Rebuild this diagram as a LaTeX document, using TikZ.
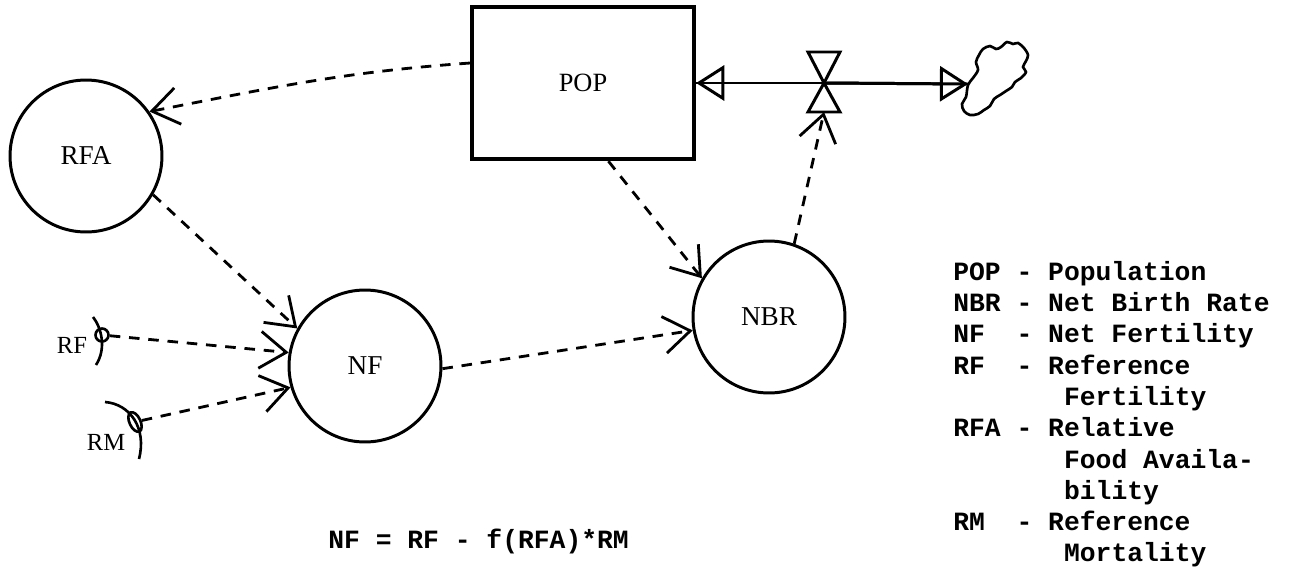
\documentclass[tikz,border=0pt]{standalone}
\usepackage{fontspec}
\setmainfont{Liberation Serif}
\setmonofont{Liberation Mono}
\usetikzlibrary{arrows.meta,shapes.geometric}
\begin{document}
\begin{tikzpicture}[x=0.02cm,y=-0.02cm,
  levelbox/.style={draw, line width=2.5pt, minimum width=4.44cm, minimum height=3.04cm, inner sep=0pt, font=\fontsize{15}{17}\selectfont},
  auxcirc/.style={draw, circle, line width=1.7pt, minimum size=3.04cm, inner sep=0pt, font=\fontsize{15.5}{17}\selectfont},
  dep/.style={line width=1.6pt, dash pattern=on 6pt off 5pt, -{Straight Barb[length=15pt,width=21pt]}},
  flowline/.style={line width=1.7pt},
  flowtip/.style={-{Triangle[open,length=16pt,width=20pt,line width=1.7pt]}},
  valvetri/.style={line width=1.7pt, line join=miter},
  constsym/.style={draw, line width=1.5pt, inner sep=0pt},
  constline/.style={line width=1.5pt},
  constlabel/.style={font=\fontsize{14}{16}\selectfont, inner sep=0pt},
  leg/.style={anchor=base west, inner sep=0pt, font=\ttfamily\bfseries\fontsize{15}{15}\selectfont},
]
\fill[white] (0,0) rectangle (1296,575);
\useasboundingbox (0,0) rectangle (1296,575);

% main elements
\node[levelbox] (POP) at (583,83) {POP};
\node[auxcirc] (RFA) at (86,156) {RFA};
\node[auxcirc] (NF) at (365,366) {NF};
\node[auxcirc] (NBR) at (769,317) {NBR};

% valve
\coordinate (valve) at (824,83);
\coordinate (valvebase) at (824,112);
\draw[valvetri] (808,52) -- (840,52) -- (valve) -- cycle;
\draw[valvetri] (valve) -- (808,112) -- (840,112) -- cycle;

% cloud
\coordinate (cloudtip) at (968,84);
\draw[line width=1.5pt] plot[smooth cycle, tension=0.55] coordinates {
 (968,85) (973,78) (978,70) (976,62) (979,55) (983,49) (990,46) (996,49) (1001,47) (1007,42)
 (1013,44) (1018,43) (1024,48) (1028,55) (1026,61) (1023,67) (1026,72) (1021,78) (1015,82) (1012,87)
 (1006,91) (1000,95) (994,99) (990,106) (984,110) (978,114) (970,115) (964,111)
 (962,104) (966,97)};

% flow
\draw[flowline] (valve) -- (POP.east);
\draw[flowline, flowtip] (valve) -- (POP.east);
\draw[flowline] (valve) -- (cloudtip);
\draw[flowline, flowtip] (valve) -- (cloudtip);

% constants
\node[constsym, circle, minimum size=0.26cm] (RFc) at (102,335) {};
\draw[constline] (93,317) .. controls (101,327) and (107,348) .. (96,365);
\node[constlabel] (RFl) at (72,345) {RF};
\node[constsym, ellipse, minimum width=0.22cm, minimum height=0.42cm, rotate=25] (RMc) at (135,422) {};
\draw[constline] (105,402) .. controls (130,404) and (147,428) .. (139,459);
\node[constlabel] (RMl) at (106,442) {RM};

% information links
\draw[dep] (POP.170) to[out=184, in=11] (RFA.35);
\draw[dep] (RFA.-30) -- (NF.151);
\draw[dep] (POP.-72) -- (NBR.150);
\draw[dep] (NF.-2) -- (NBR.190);
\draw[dep] (NBR.71) -- (valvebase);
\draw[dep] (RFc) -- (NF.170);
\draw[dep] (RMc) -- (NF.196);

% equation
\node[leg] (eq) at (328,548) {NF = RF - f(RFA)*RM};

% legend
\node[leg] (lg1) at (953,280) {POP~-~Population};
\node[leg] (lg2) at (953,311) {NBR~-~Net Birth Rate};
\node[leg] (lg3) at (953,342) {NF~~-~Net Fertility};
\node[leg] (lg4) at (953,374) {RF~~-~Reference};
\node[leg] (lg5) at (953,405) {~~~~~~~Fertility};
\node[leg] (lg6) at (953,436) {RFA~-~Relative};
\node[leg] (lg7) at (953,468) {~~~~~~~Food Availa-};
\node[leg] (lg8) at (953,499) {~~~~~~~bility};
\node[leg] (lg9) at (953,530) {RM~~-~Reference};
\node[leg] (lg10) at (953,561) {~~~~~~~Mortality};
\end{tikzpicture}
\end{document}
